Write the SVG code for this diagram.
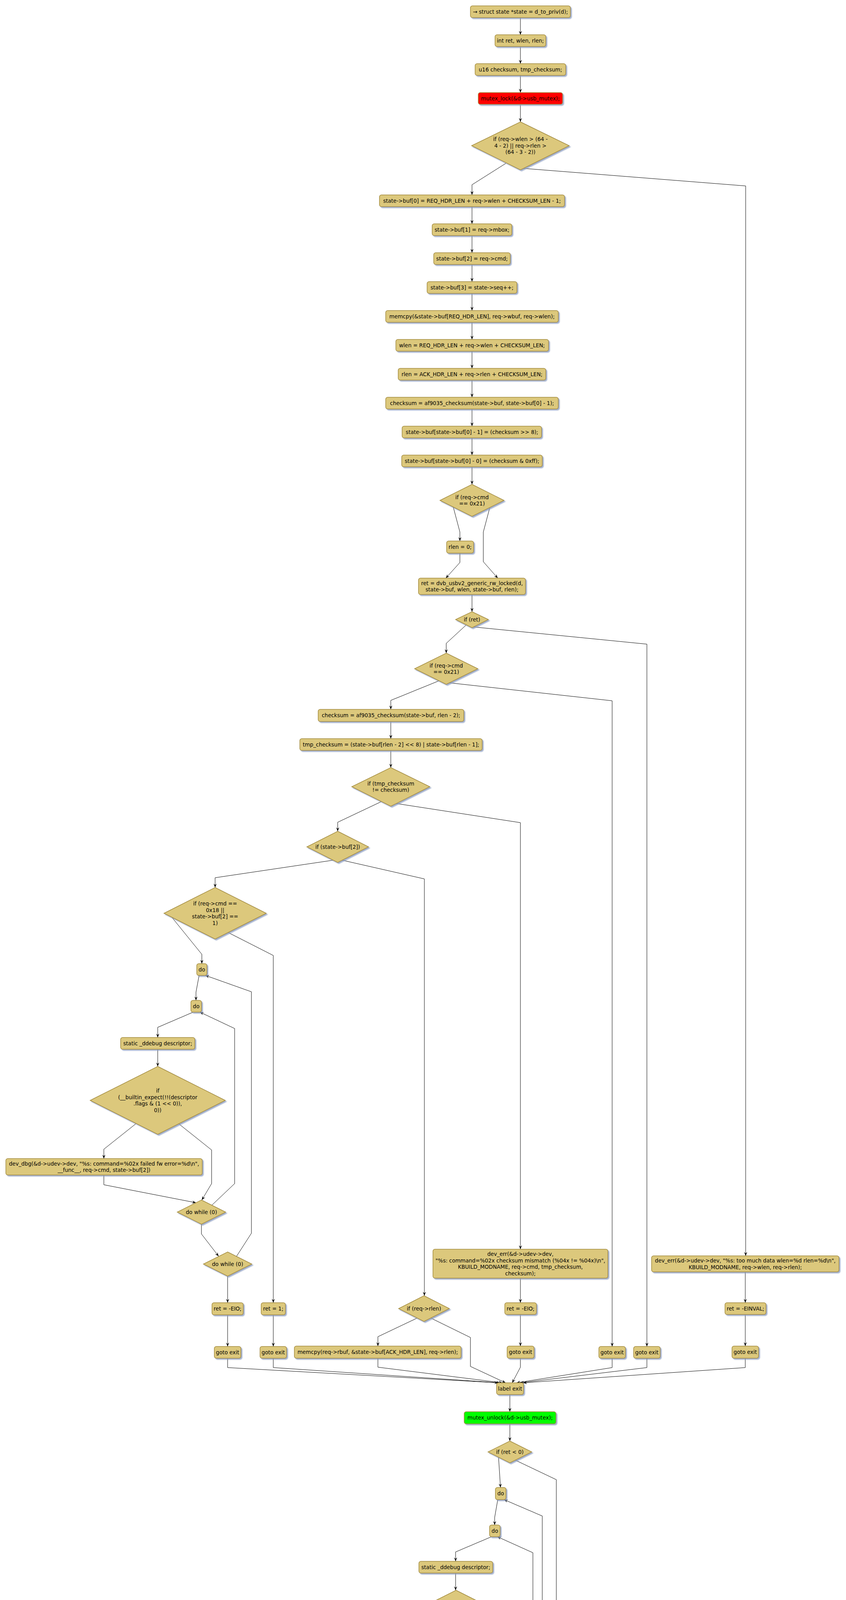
<svg xmlns="http://www.w3.org/2000/svg" width="2167" height="4704" viewBox="0 0 2167 4704">
<defs>
<style>
.n{fill:#DCC87C;stroke:#A38B3D;stroke-width:1.5;filter:url(#s)}
.r{fill:#FF0000}
.g{fill:#00FF00}
text{font-family:"DejaVu Sans","Liberation Sans",sans-serif;font-size:13.5px;fill:#000;text-anchor:middle}
.e{fill:none;stroke:#000;stroke-width:1;marker-end:url(#a)}
</style>
<filter id="s" x="-10%" y="-10%" width="125%" height="140%">
<feDropShadow dx="3" dy="3" stdDeviation="1.2" flood-color="#8A9BC0" flood-opacity="0.8"/>
</filter>
<marker id="a" markerWidth="12" markerHeight="10" refX="10" refY="4" orient="auto" markerUnits="userSpaceOnUse">
<path d="M0,0 L10,4 L0,8 L4,4 Z" fill="#000"/>
</marker>
</defs>
<rect width="2167" height="4704" fill="#fff"/>
<g id="connectors">
<path class="e" d="M1333,45 V89"/>
<path class="e" d="M1333,119 V163"/>
<path class="e" d="M1333,193 V237"/>
<path class="e" d="M1333,267 V312"/>
<path class="e" d="M1296,418 L1209,473 V499"/>
<path class="e" d="M1340,431 L1910,476 V3215"/>
<path class="e" d="M1209,529 V573"/>
<path class="e" d="M1209,603 V647"/>
<path class="e" d="M1209,677 V721"/>
<path class="e" d="M1209,751 V795"/>
<path class="e" d="M1209,825 V869"/>
<path class="e" d="M1209,899 V943"/>
<path class="e" d="M1209,973 V1017"/>
<path class="e" d="M1209,1047 V1091"/>
<path class="e" d="M1209,1121 V1165"/>
<path class="e" d="M1209,1195 V1240"/>
<path class="e" d="M1161,1298 L1178,1362 V1385"/>
<path class="e" d="M1255,1298 L1238,1362 V1438 L1275,1480"/>
<path class="e" d="M1178,1416 V1440 L1142,1480"/>
<path class="e" d="M1209,1522 V1566"/>
<path class="e" d="M1194,1600 L1143,1647 V1672"/>
<path class="e" d="M1213,1605 L1657,1649 V3447"/>
<path class="e" d="M1124,1743 L1001,1793 V1816"/>
<path class="e" d="M1151,1748 L1568,1794 V3447"/>
<path class="e" d="M1001,1847 V1891"/>
<path class="e" d="M1001,1921 V1965"/>
<path class="e" d="M977,2052 L865,2105 V2128"/>
<path class="e" d="M1015,2057 L1333,2106 V3198"/>
<path class="e" d="M854,2202 L551,2247 V2272"/>
<path class="e" d="M876,2202 L1087,2250 V3317"/>
<path class="e" d="M440,2348 L517,2443 V2467"/>
<path class="e" d="M584,2387 L700,2446 V3335"/>
<path class="e" d="M510,2497 L502,2540 V2561"/>
<path class="e" d="M495,2591 L404,2630 V2656"/>
<path class="e" d="M404,2686 V2730"/>
<path class="e" d="M349,2876 L266,2942 V2966"/>
<path class="e" d="M458,2877 L542,2944 V3030 L517,3072"/>
<path class="e" d="M266,3008 V3033 L502,3079"/>
<path class="e" d="M516,3134 V3159 L560,3216"/>
<path class="e" d="M543,3085 L601,3030 V2633 L512,2591"/>
<path class="e" d="M606,3216 L644,3157 V2539 L526,2497"/>
<path class="e" d="M583,3267 V3335"/>
<path class="e" d="M583,3366 V3447"/>
<path class="e" d="M700,3366 V3447"/>
<path class="e" d="M583,3477 V3501 L1276,3540"/>
<path class="e" d="M700,3477 V3501 L1281,3540"/>
<path class="e" d="M1069,3374 L968,3422 V3446"/>
<path class="e" d="M1103,3374 L1205,3424 V3498 L1295,3540"/>
<path class="e" d="M968,3477 V3500 L1287,3540"/>
<path class="e" d="M1333,3272 V3335"/>
<path class="e" d="M1333,3365 V3446"/>
<path class="e" d="M1333,3477 V3500 L1312,3540"/>
<path class="e" d="M1568,3477 V3501 L1323,3540"/>
<path class="e" d="M1657,3477 V3501 L1332,3540"/>
<path class="e" d="M1909,3256 V3335"/>
<path class="e" d="M1909,3365 V3446"/>
<path class="e" d="M1909,3477 V3501 L1340,3540"/>
<path class="e" d="M1306,3570 V3614"/>
<path class="e" d="M1306,3645 V3689"/>
<path class="e" d="M1277,3731 L1282,3808"/>
<path class="e" d="M1320,3738 L1425,3788 V4613 L1412,4654"/>
<path class="e" d="M1275,3839 L1267,3885 V3904"/>
<path class="e" d="M1259,3934 L1167,3973 V3997"/>
<path class="e" d="M1167,4027 V4071"/>
<path class="e" d="M1105,4213 L1052,4284 V4309"/>
<path class="e" d="M1232,4213 L1285,4286 V4403"/>
<path class="e" d="M1052,4339 V4363 L1269,4411"/>
<path class="e" d="M1313,4417 L1365,4360 V3975 L1274,3934"/>
<path class="e" d="M1285,4465 V4490 L1328,4540"/>
<path class="e" d="M1381,4544 L1389,4487 V3881 L1291,3839"/>
<path class="e" d="M1351,4591 V4615 L1363,4654"/>
</g>
<g id="n1"><rect class="n" x="1205" y="15" width="256" height="30" rx="5"/><text x="1333" y="35">→ struct state *state = d_to_priv(d);</text></g>
<g id="n2"><rect class="n" x="1268" y="89" width="130" height="30" rx="5"/><text x="1333" y="109">int ret, wlen, rlen;</text></g>
<g id="n3"><rect class="n" x="1217" y="163" width="232" height="30" rx="5"/><text x="1333" y="183">u16 checksum, tmp_checksum;</text></g>
<g id="n4"><rect class="n r" x="1225" y="237" width="216" height="30" rx="5"/><text x="1333" y="257">mutex_lock(&amp;d-&gt;usb_mutex);</text></g>
<g id="d1"><polygon class="n" points="1333,312 1458,373 1333,435 1208,373"/><text x="1333" y="361">if (req-&gt;wlen &gt; (64 -</text><text x="1333" y="377.5">4 - 2) || req-&gt;rlen &gt;</text><text x="1333" y="394">(64 - 3 - 2))</text></g>
<g id="n5"><rect class="n" x="972" y="499" width="474" height="30" rx="5"/><text x="1209" y="519">state-&gt;buf[0] = REQ_HDR_LEN + req-&gt;wlen + CHECKSUM_LEN - 1;</text></g>
<g id="n6"><rect class="n" x="1107" y="573" width="204" height="30" rx="5"/><text x="1209" y="593">state-&gt;buf[1] = req-&gt;mbox;</text></g>
<g id="n7"><rect class="n" x="1111" y="647" width="196" height="30" rx="5"/><text x="1209" y="667">state-&gt;buf[2] = req-&gt;cmd;</text></g>
<g id="n8"><rect class="n" x="1094" y="721" width="230" height="30" rx="5"/><text x="1209" y="741">state-&gt;buf[3] = state-&gt;seq++;</text></g>
<g id="n9"><rect class="n" x="988" y="795" width="442" height="30" rx="5"/><text x="1209" y="815">memcpy(&amp;state-&gt;buf[REQ_HDR_LEN], req-&gt;wbuf, req-&gt;wlen);</text></g>
<g id="n10"><rect class="n" x="1014" y="869" width="391" height="30" rx="5"/><text x="1209" y="889">wlen = REQ_HDR_LEN + req-&gt;wlen + CHECKSUM_LEN;</text></g>
<g id="n11"><rect class="n" x="1020" y="943" width="378" height="30" rx="5"/><text x="1209" y="963">rlen = ACK_HDR_LEN + req-&gt;rlen + CHECKSUM_LEN;</text></g>
<g id="n12"><rect class="n" x="988" y="1017" width="442" height="30" rx="5"/><text x="1209" y="1037">checksum = af9035_checksum(state-&gt;buf, state-&gt;buf[0] - 1);</text></g>
<g id="n13"><rect class="n" x="1030" y="1091" width="357" height="30" rx="5"/><text x="1209" y="1111">state-&gt;buf[state-&gt;buf[0] - 1] = (checksum &gt;&gt; 8);</text></g>
<g id="n14"><rect class="n" x="1029" y="1165" width="360" height="30" rx="5"/><text x="1209" y="1185">state-&gt;buf[state-&gt;buf[0] - 0] = (checksum &amp; 0xff);</text></g>
<g id="d2"><polygon class="n" points="1209,1240 1291,1281 1209,1322 1127,1281"/><text x="1209" y="1277.5">if (req-&gt;cmd</text><text x="1209" y="1294">== 0x21)</text></g>
<g id="n15"><rect class="n" x="1144" y="1385" width="69" height="31" rx="5"/><text x="1178.5" y="1405">rlen = 0;</text></g>
<g id="n16"><rect class="n" x="1072" y="1480" width="274" height="42" rx="5"/><text x="1209" y="1497.5">ret = dvb_usbv2_generic_rw_locked(d,</text><text x="1209" y="1514">state-&gt;buf, wlen, state-&gt;buf, rlen);</text></g>
<g id="d3"><polygon class="n" points="1209,1566 1251,1586 1209,1607 1167,1586"/><text x="1209" y="1591">if (ret)</text></g>
<g id="d4"><polygon class="n" points="1143,1672 1224,1712 1143,1752 1062,1712"/><text x="1143" y="1708.5">if (req-&gt;cmd</text><text x="1143" y="1725">== 0x21)</text></g>
<g id="n17"><rect class="n" x="815" y="1816" width="373" height="31" rx="5"/><text x="1001.5" y="1836">checksum = af9035_checksum(state-&gt;buf, rlen - 2);</text></g>
<g id="n18"><rect class="n" x="768" y="1891" width="467" height="30" rx="5"/><text x="1001.5" y="1911">tmp_checksum = (state-&gt;buf[rlen - 2] &lt;&lt; 8) | state-&gt;buf[rlen - 1];</text></g>
<g id="d5"><polygon class="n" points="1001,1965 1101,2014 1001,2064 901,2014"/><text x="1001" y="2010.5">if (tmp_checksum</text><text x="1001" y="2027">!= checksum)</text></g>
<g id="d6"><polygon class="n" points="865,2128 944,2168 865,2208 786,2168"/><text x="865" y="2173">if (state-&gt;buf[2])</text></g>
<g id="d7"><polygon class="n" points="551,2272 682,2338 551,2404 420,2338"/><text x="551" y="2318">if (req-&gt;cmd ==</text><text x="551" y="2334.5">0x18 ||</text><text x="551" y="2351">state-&gt;buf[2] ==</text><text x="551" y="2367.5">1)</text></g>
<g id="n19"><rect class="n" x="504" y="2467" width="26" height="30" rx="5"/><text x="517" y="2487">do</text></g>
<g id="n20"><rect class="n" x="489" y="2561" width="27" height="30" rx="5"/><text x="502.5" y="2581">do</text></g>
<g id="n21"><rect class="n" x="309" y="2656" width="190" height="30" rx="5"/><text x="404" y="2676">static _ddebug descriptor;</text></g>
<g id="d8"><polygon class="n" points="404,2730 577,2817 404,2904 231,2817"/><text x="404" y="2797">if</text><text x="404" y="2813.5">(__builtin_expect(!!(descriptor</text><text x="404" y="2830">.flags &amp; (1 &lt;&lt; 0)),</text><text x="404" y="2846.5">0))</text></g>
<g id="n22"><rect class="n" x="15" y="2966" width="503" height="42" rx="5"/><text x="266.5" y="2983.5">dev_dbg(&amp;d-&gt;udev-&gt;dev, "%s: command=%02x failed fw error=%d\n",</text><text x="266.5" y="3000">__func__, req-&gt;cmd, state-&gt;buf[2])</text></g>
<g id="d9"><polygon class="n" points="516,3072 578,3103 516,3134 454,3103"/><text x="516" y="3108">do while (0)</text></g>
<g id="d10"><polygon class="n" points="583,3205 645,3236 583,3267 521,3236"/><text x="583" y="3241">do while (0)</text></g>
<g id="n23"><rect class="n" x="543" y="3335" width="80" height="31" rx="5"/><text x="583" y="3355">ret = -EIO;</text></g>
<g id="n24"><rect class="n" x="669" y="3335" width="62" height="31" rx="5"/><text x="700" y="3355">ret = 1;</text></g>
<g id="n25"><rect class="n" x="549" y="3447" width="68" height="30" rx="5"/><text x="583" y="3467">goto exit</text></g>
<g id="n26"><rect class="n" x="666" y="3447" width="68" height="30" rx="5"/><text x="700" y="3467">goto exit</text></g>
<g id="d11"><polygon class="n" points="1086,3317 1151,3350 1086,3383 1021,3350"/><text x="1086" y="3355">if (req-&gt;rlen)</text></g>
<g id="n27"><rect class="n" x="754" y="3446" width="427" height="31" rx="5"/><text x="967.5" y="3466">memcpy(req-&gt;rbuf, &amp;state-&gt;buf[ACK_HDR_LEN], req-&gt;rlen);</text></g>
<g id="n28"><rect class="n" x="1109" y="3198" width="448" height="74" rx="5"/><text x="1333" y="3215">dev_err(&amp;d-&gt;udev-&gt;dev,</text><text x="1333" y="3231.5">"%s: command=%02x checksum mismatch (%04x != %04x)\n",</text><text x="1333" y="3248">KBUILD_MODNAME, req-&gt;cmd, tmp_checksum,</text><text x="1333" y="3264.5">checksum);</text></g>
<g id="n29"><rect class="n" x="1293" y="3335" width="81" height="30" rx="5"/><text x="1333.5" y="3355">ret = -EIO;</text></g>
<g id="n30"><rect class="n" x="1299" y="3446" width="69" height="31" rx="5"/><text x="1333.5" y="3466">goto exit</text></g>
<g id="n31"><rect class="n" x="1534" y="3447" width="68" height="30" rx="5"/><text x="1568" y="3467">goto exit</text></g>
<g id="n32"><rect class="n" x="1623" y="3447" width="68" height="30" rx="5"/><text x="1657" y="3467">goto exit</text></g>
<g id="n33"><rect class="n" x="1669" y="3215" width="480" height="41" rx="5"/><text x="1909" y="3232">dev_err(&amp;d-&gt;udev-&gt;dev, "%s: too much data wlen=%d rlen=%d\n",</text><text x="1909" y="3248.5">KBUILD_MODNAME, req-&gt;wlen, req-&gt;rlen);</text></g>
<g id="n34"><rect class="n" x="1857" y="3335" width="105" height="30" rx="5"/><text x="1909.5" y="3355">ret = -EINVAL;</text></g>
<g id="n35"><rect class="n" x="1875" y="3446" width="68" height="31" rx="5"/><text x="1909" y="3466">goto exit</text></g>
<g id="n36"><rect class="n" x="1272" y="3540" width="69" height="30" rx="5"/><text x="1306.5" y="3560">label exit</text></g>
<g id="n37"><rect class="n g" x="1189" y="3614" width="235" height="31" rx="5"/><text x="1306.5" y="3634">mutex_unlock(&amp;d-&gt;usb_mutex);</text></g>
<g id="d12"><polygon class="n" points="1306,3689 1362,3717 1306,3745 1250,3717"/><text x="1306" y="3722">if (ret &lt; 0)</text></g>
<g id="n38"><rect class="n" x="1269" y="3808" width="27" height="31" rx="5"/><text x="1282.5" y="3828">do</text></g>
<g id="n39"><rect class="n" x="1254" y="3904" width="27" height="30" rx="5"/><text x="1267.5" y="3924">do</text></g>
<g id="n40"><rect class="n" x="1073" y="3997" width="189" height="30" rx="5"/><text x="1167.5" y="4017">static _ddebug descriptor;</text></g>
<g id="d13"><polygon class="n" points="1168,4071 1341,4158 1168,4245 995,4158"/><text x="1168" y="4138">if</text><text x="1168" y="4154.5">(__builtin_expect(!!(descriptor</text><text x="1168" y="4171">.flags &amp; (1 &lt;&lt; 0)),</text><text x="1168" y="4187.5">0))</text></g>
<g id="n41"><rect class="n" x="843" y="4309" width="418" height="30" rx="5"/><text x="1052" y="4329">dev_dbg(&amp;d-&gt;udev-&gt;dev, "%s: failed=%d\n", __func__, ret);</text></g>
<g id="d14"><polygon class="n" points="1285,4403 1347,4434 1285,4465 1223,4434"/><text x="1285" y="4439">do while (0)</text></g>
<g id="d15"><polygon class="n" points="1351,4529 1413,4560 1351,4591 1289,4560"/><text x="1351" y="4565">do while (0)</text></g>
<g id="n42"><rect class="n" x="1341" y="4654" width="94" height="31" rx="5"/><text x="1388" y="4674">return; ret →</text></g>
</svg>
